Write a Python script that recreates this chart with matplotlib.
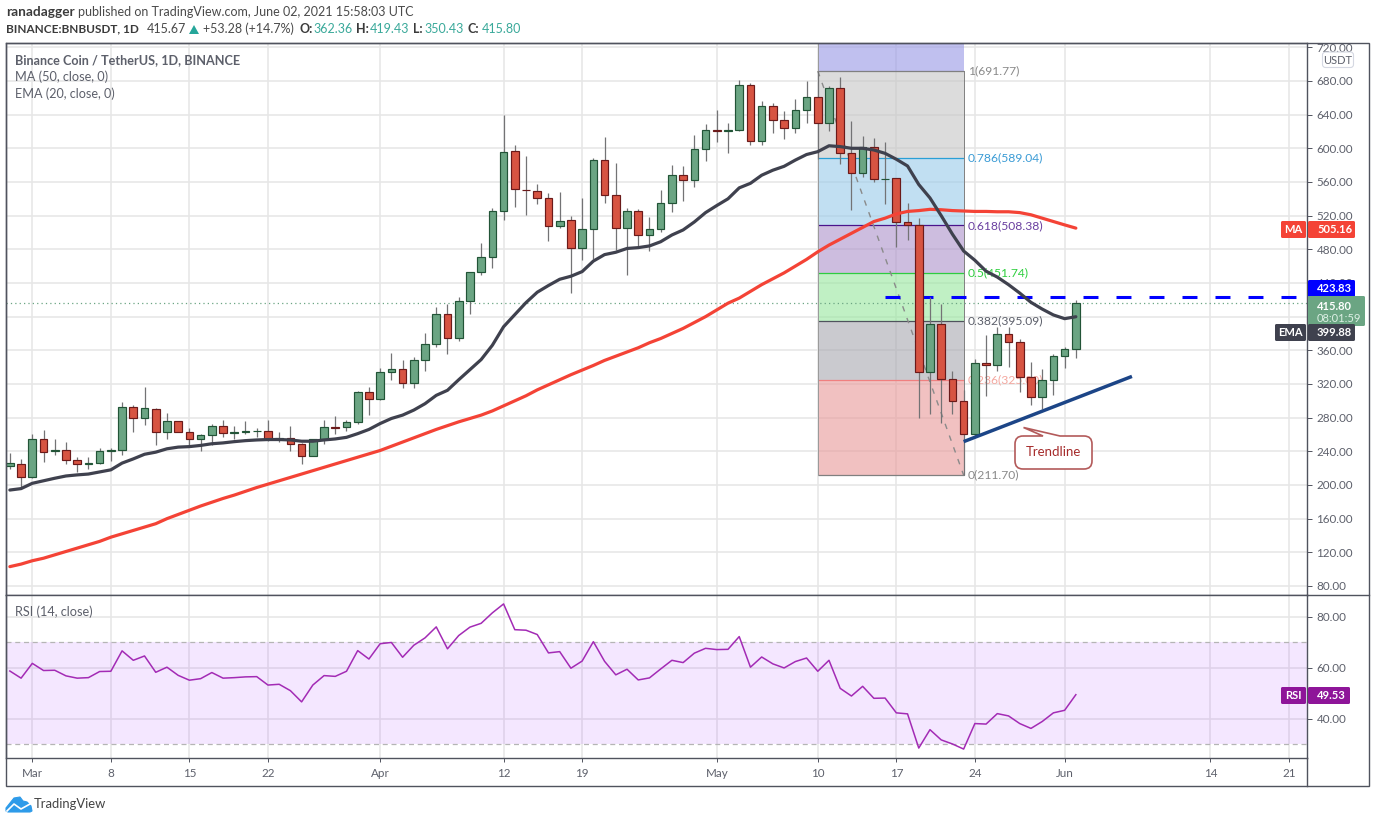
import numpy as np
import pandas as pd
import matplotlib
matplotlib.use("Agg")
import matplotlib.pyplot as plt
import matplotlib.dates as mdates
from matplotlib.patches import FancyBboxPatch, PathPatch, Polygon, Rectangle
from matplotlib.path import Path
from matplotlib.transforms import Affine2D

plt.rcParams['font.family'] = ['Lato', 'DejaVu Sans']

# daily candles, 27 Feb to 2 Jun 2021
start_date = "2021-02-27"
end_date = "2021-06-02"

opens = [222, 225, 209.5, 255, 240, 241, 230, 225, 226.5, 240, 241, 293, 279, 290, 263, 276, 263, 255, 259, 270,
         262, 263, 264, 264.5, 255, 256, 249, 234, 255, 269, 268.5, 275, 311, 302.6, 334.7, 338, 321.6, 349, 368, 403.6,
         375, 419, 453.5, 471, 526, 597, 551, 549.7, 541, 508, 515, 482, 504.6, 586.5, 544, 505.8, 526, 497.4, 504.6, 535.5,
         568.7, 562.8, 599.6, 622, 620, 622, 675.6, 609, 650.7, 634, 624.6, 646, 661, 630, 672, 594, 571, 602, 563, 565,
         512, 508.5, 334, 391, 326, 300, 260.6, 345, 342, 379.4, 370, 328, 304.6, 325, 353, 361.6]
closes = [226, 210, 255, 239.6, 241, 230, 225, 226.5, 240, 241, 293, 279, 291, 263, 276, 263, 255, 259, 270, 262,
          263, 264.5, 264.5, 255, 255.5, 249, 234, 255, 269, 268, 275, 311, 302.6, 334.7, 338, 321.6, 349, 368, 403.6, 375,
          419, 453.5, 471, 526, 596, 552, 550, 541, 508, 514, 482, 504.6, 586.5, 544, 505.8, 526, 497.4, 504.6, 535.5, 568.7,
          562.8, 599.6, 622, 620, 622, 675.6, 609, 650.7, 634, 624.6, 646, 661, 630, 672, 594.5, 571, 602, 563, 564, 512,
          509, 334, 391, 326, 300, 260.6, 345, 342, 379.4, 370, 328, 304.6, 325, 353, 361.6, 415.8]
highs = [238, 231, 260, 265, 255, 251, 233, 233, 244, 244, 298, 295, 316, 291, 285, 276.5, 268, 260, 273, 277.6,
         269.7, 275.6, 268, 277.6, 263, 270, 250, 255, 277, 281.6, 277.6, 312, 317, 339, 357, 349, 352.5, 380, 412, 414.6,
         423, 453.5, 488, 529.5, 639, 603.6, 590.5, 557, 547, 547.7, 520, 540.6, 589, 614, 583, 529.5, 528, 518, 550, 580,
         579, 615.5, 628.5, 646, 630, 681, 678, 656.6, 653.5, 644, 658, 679.6, 691.77, 674, 685, 633, 615, 612, 607, 565,
         535, 517, 423, 415, 335.5, 313, 350, 378.6, 388, 388, 374, 346, 338, 356, 364, 419.4]
lows = [219, 195, 208.7, 227, 235.7, 225, 215, 219, 224.6, 228.5, 236, 263, 271, 247.5, 255, 263, 248, 240, 247.5, 257,
        254.7, 261, 257, 252, 251, 240, 225, 234, 249, 261, 264, 272, 283, 301, 325, 315, 315, 335, 364, 355.6,
        371, 403, 449.5, 457.4, 514.5, 530, 521, 533.5, 490, 505.4, 428, 467, 469, 534.7, 479, 449, 481.6, 478, 500, 524,
        537, 553.7, 584.6, 608, 594, 620.6, 603.6, 603.6, 618.6, 610.7, 618, 629.7, 587, 620.5, 581, 527, 566, 560, 534, 483,
        490.5, 280, 284, 273.7, 284, 212, 258, 305.4, 335, 340, 311, 294.7, 290, 306.5, 339, 350.4]

ema20 = [194, 195.7, 202, 205, 208, 210.7, 212, 213, 215.5, 218, 226, 231, 236.5, 239, 243, 245, 245.6, 247, 249, 250,
         251.5, 252.7, 253.5, 254, 254, 253.5, 252, 252, 253.5, 254.7, 256.6, 261, 266, 273, 279, 283, 289, 296.6, 306.5, 312.5,
         325, 337, 349, 366, 388, 402.4, 416.7, 429, 437, 444.4, 448, 453.5, 466, 473.7, 476.5, 481, 482, 484, 489, 497,
         503, 512.5, 523.6, 532, 540, 553, 558.4, 568, 574, 578.6, 586, 592.6, 596, 603, 602, 600, 600, 598, 594, 587,
         579, 557, 541, 520, 498, 478, 467, 454, 447, 438, 428, 417, 409, 402, 397.6, 399.88]
ma50 = [103, 106, 110, 113, 117, 121, 125, 129, 133, 138, 142, 146, 150, 154, 160, 165, 170, 175, 179.5, 184,
        188, 192.5, 197, 201, 205, 209, 213, 217, 221, 225, 229, 233, 237, 241, 246, 251, 256, 261, 266, 270.5,
        275, 279, 283, 288, 294, 300, 306, 313, 319, 325, 331, 336.5, 342, 348, 353, 358, 363, 369, 374, 380,
        386, 393, 400, 408, 416, 422, 430, 438, 445, 452, 460, 468, 477, 485, 492, 499, 506, 513, 517, 522,
        525, 526, 527.5, 527, 526, 525.5, 525, 525, 524.6, 524.6, 523.6, 521, 517, 513, 509, 505.16]
rsi14 = [58.8, 56, 61.8, 59, 59.1, 56.9, 56, 56.2, 58.6, 58.7, 66.7, 63, 64.7, 58.3, 60.3, 57.1, 55.2, 55.8, 58.2, 56,
         56.2, 56.5, 56.6, 53.3, 53.6, 51.1, 46.7, 53.3, 57, 56.7, 58.7, 66.8, 63.5, 69.5, 70, 64.2, 68.9, 71.8, 76.1, 67.5,
         72.7, 76, 77.5, 81.6, 85.1, 75, 74.8, 73.1, 65.9, 66.4, 59.9, 62.7, 70.3, 62.6, 57.3, 59.5, 55.3, 56.1, 59.6, 63,
         62.1, 65.8, 67.7, 67.2, 67.3, 72.3, 60.3, 64.3, 61.6, 60, 62.5, 63.9, 58.7, 63, 52, 49, 52.8, 48.1, 48.2, 42.4,
         42, 28.6, 35.8, 31.8, 30.2, 28.2, 38.2, 38, 42.1, 41.2, 38.2, 36.3, 39, 42.4, 43.4, 49.53]

# fibonacci retracement drawn from 10 May to 23 May
fib_start = "2021-05-10"
fib_end = "2021-05-23"
fib_levels = [691.77, 589.04, 508.38, 451.74, 395.09, 325.00, 211.70]
fib_names = ["1", "0.786", "0.618", "0.5", "0.382", "0.236", "0"]
fib_lines = ["#808080", "#2a9fd6", "#4a148c", "#2ecc40", "#50535e", "#f08080", "#808080"]
fib_text = ["#8a8a8a", "#3a9bd5", "#6a3fa0", "#2fcf3f", "#5d606b", "#f4a8a0", "#8a8a8a"]
fib_fills = ["#c5c5c5", "#99cbea", "#ac91cb", "#96e69d", "#a8a8b0", "#e99999"]
fib_top_fill = "#9696e5"

resistance = 423.83
resistance_start = "2021-05-16"
last_price = 415.80
trend_dates = ["2021-05-23", "2021-06-07"]
trend_prices = [251.5, 329]

price_ticks = [80, 120, 160, 200, 240, 280, 320, 360, 400, 440, 480, 520, 560, 600, 640, 680, 720]
rsi_ticks = [40, 60, 80]
date_ticks = ["2021-03-01", "2021-03-08", "2021-03-15", "2021-03-22", "2021-04-01", "2021-04-12", "2021-04-19",
              "2021-05-01", "2021-05-10", "2021-05-17", "2021-05-24", "2021-06-01", "2021-06-14", "2021-06-21"]
date_labels = ["Mar", "8", "15", "22", "Apr", "12", "19", "May", "10", "17", "24", "Jun", "14", "21"]

FRAME = "#50535e"
GRID = "#e6e6e6"
LABEL = "#5d606b"
UP = "#6ba583"
DOWN = "#d75442"
UP_EDGE = "#225437"
DOWN_EDGE = "#6b1a1a"
HEAD = "#3b3b3b"
HEAD_LIGHT = "#4a4a4a"
SCALE_SIZE = 8.4
TAG_SIZE = 8.0

W, H = 1376, 823
LEFT, RIGHT_AXIS, RIGHT = 6, 1307, 1369
TOP, SPLIT, BOTTOM, OUTER = 43, 595, 758, 786

fig = plt.figure(figsize=(W / 100, H / 100), dpi=100, facecolor="white")
# overlay pixels, origin top left
px = Affine2D().scale(1, -1).translate(0, H)


def pane(y0, y1):
    return fig.add_axes([LEFT / W, 1 - y1 / H, (RIGHT_AXIS - LEFT) / W, (y1 - y0) / H])


def label(x, y, s, color=LABEL, size=9.0, weight="normal", ha="left", zorder=20):
    return fig.text(x, y, s, transform=px, color=color, fontsize=size, fontweight=weight,
                    ha=ha, va="center", zorder=zorder)


def tag(x0, y0, x1, y1, color):
    fig.add_artist(FancyBboxPatch((x0 + 1, y0 + 1), x1 - x0 - 2, y1 - y0 - 2, boxstyle="round,pad=1,rounding_size=1.5",
                                  transform=px, fc=color, ec="none", zorder=15))


ax = pane(TOP, SPLIT)
ax_rsi = pane(SPLIT, BOTTOM)

dates = pd.date_range(start_date, end_date)
x = mdates.date2num(dates)
x_ref = mdates.date2num(pd.Timestamp("2021-03-01"))
tick_x = mdates.date2num(pd.to_datetime(date_ticks))

for a in (ax, ax_rsi):
    a.set_xlim(x_ref - 2.344, x_ref + 113.6)
    a.set_xticks(tick_x)
    a.yaxis.tick_right()
    a.grid(True, color=GRID, lw=1.1)
    a.set_axisbelow(True)
    for s in a.spines.values():
        s.set_color(FRAME)
        s.set_linewidth(1.0)
    a.tick_params(axis="y", length=3.6, width=0.7, color=FRAME, labelcolor=LABEL, labelsize=SCALE_SIZE, pad=3.2)

ax.set_ylim(69.3, 725.1)
ax.set_yticks(price_ticks)
ax.set_yticklabels(["%.2f" % t for t in price_ticks])
ax.tick_params(axis="x", length=0, labelbottom=False)

# fib zones
fx0 = mdates.date2num(pd.Timestamp(fib_start))
fx1 = mdates.date2num(pd.Timestamp(fib_end))
ax.fill_between([fx0, fx1], fib_levels[0], 725.1, color=fib_top_fill, alpha=0.6, lw=0, zorder=1)
for i, c in enumerate(fib_fills):
    ax.fill_between([fx0, fx1], fib_levels[i + 1], fib_levels[i], color=c, alpha=0.6, lw=0, zorder=1)
for lev, name, lc, tc in zip(fib_levels, fib_names, fib_lines, fib_text):
    ax.plot([fx0, fx1], [lev, lev], color=lc, lw=0.9, zorder=1.5, solid_capstyle="butt")
    ax.text(fx1 + 0.35, lev, "%s(%.2f)" % (name, lev), color=tc, fontsize=8.7, va="center", zorder=1.6)
ax.plot([fx0, fx0], [fib_levels[-1], 725.1], color="#9a9a9a", lw=0.7, zorder=1.5)
ax.plot([fx1, fx1], [fib_levels[-1], fib_levels[0]], color="#808080", lw=0.7, zorder=1.5)
ax.plot([fx0, fx1], [fib_levels[0], fib_levels[-1]], color="#8a8a8a", lw=1.0, ls=(0, (4, 5)), zorder=1.7)

# last price and resistance level
ax.axhline(last_price, color=UP, lw=0.9, ls=(0, (1, 2.5)), zorder=1.8)
ax.plot([mdates.date2num(pd.Timestamp(resistance_start)), ax.get_xlim()[1]], [resistance, resistance],
        color="#0000ff", lw=2.2, ls=(0, (4.9, 5.9)), zorder=2, dash_capstyle="butt")

# candles
o = np.array(opens)
c = np.array(closes)
up = c >= o
ax.vlines(x, lows, highs, color="#737375", lw=0.9, zorder=2.5)
ax.bar(x[up], (c - o)[up], bottom=o[up], width=0.68, color=UP, edgecolor=UP_EDGE, lw=0.85, zorder=3)
ax.bar(x[~up], (c - o)[~up], bottom=o[~up], width=0.68, color=DOWN, edgecolor=DOWN_EDGE, lw=0.85, zorder=3)

ax.plot(x, ma50, color="#f44336", lw=2.3, zorder=4, solid_capstyle="round")
ax.plot(x, ema20, color="#3f414e", lw=2.3, zorder=4, solid_capstyle="round")
ax.plot(mdates.date2num(pd.to_datetime(trend_dates)), trend_prices, color="#1c4587", lw=2.5, zorder=4.5,
        solid_capstyle="butt")

# rsi pane
ax_rsi.set_ylim(24.7, 88.6)
ax_rsi.set_yticks(rsi_ticks)
ax_rsi.set_yticklabels(["%.2f" % t for t in rsi_ticks])
ax_rsi.set_xticklabels(date_labels)
ax_rsi.tick_params(axis="x", length=3, width=0.7, color=FRAME, labelcolor=LABEL, labelsize=SCALE_SIZE, pad=4.4)
ax_rsi.axhspan(30, 70, color="#9915ff", alpha=0.1, lw=0, zorder=1)
for lev in (30, 70):
    ax_rsi.axhline(lev, color="#b5b5b5", lw=0.9, ls=(0, (4, 3)), zorder=1.5)
ax_rsi.plot(x, rsi14, color="#a32bb5", lw=1.1, zorder=3)

# outer frame
fig.add_artist(Rectangle((LEFT, TOP), RIGHT - LEFT, OUTER - TOP, transform=px, fc="none", ec=FRAME, lw=1.0, zorder=5))
fig.add_artist(plt.Line2D([RIGHT_AXIS, RIGHT_AXIS], [BOTTOM, OUTER], transform=px, color=FRAME, lw=1.0, zorder=5))
fig.add_artist(plt.Line2D([RIGHT_AXIS, RIGHT], [SPLIT, SPLIT], transform=px, color=FRAME, lw=1.0, zorder=5))

# header
label(6, 12, "ranadagger", HEAD, 9.8, "bold")
label(77.5, 12, "published on TradingView.com, June 02, 2021 15:58:03 UTC", HEAD_LIGHT, 9.0)
label(6, 29, "BINANCE:BNBUSDT, 1D", HEAD, 8.5, "bold")
label(147, 29, "415.67", HEAD_LIGHT, 9.0)
fig.add_artist(Polygon([[189, 34], [199, 34], [194, 25]], transform=px, fc="#26a69a", ec="none", zorder=20))
label(203, 29, "+53.28 (+14.7%)", HEAD_LIGHT, 9.0)
for xa, xb, head, val in [(299, 313, "O:", "362.36"), (356, 370, "H:", "419.43"),
                          (413, 424, "L:", "350.43"), (468, 482, "C:", "415.80")]:
    label(xa, 29, head, HEAD, 9.0, "bold")
    label(xb, 29, val, "#3aa99a", 9.0)

# pane legends
label(15, 60, "Binance Coin / TetherUS, 1D, BINANCE", LABEL, 9.1, "bold")
label(15, 77, "MA (50, close, 0)", LABEL, 9.2)
label(15, 94, "EMA (20, close, 0)", LABEL, 9.1)
label(15, 612, "RSI (14, close)", LABEL, 9.2)

# price scale tags
fig.add_artist(FancyBboxPatch((1323.5, 53), 29, 13.5, boxstyle="round,pad=1,rounding_size=3", transform=px,
                              fc="white", ec="#d5d8e2", lw=0.8, zorder=15))
label(1338, 60, "USDT", LABEL, 8.0, ha="center")
tag(1281, 221, 1306, 238, "#f44336")
label(1293.5, 229.5, "MA", "white", TAG_SIZE, "bold", ha="center")
tag(1308, 221, 1355, 238, "#f44336")
label(1317, 229.5, "505.16", "white", TAG_SIZE, "bold")
tag(1308, 280, 1355, 297, "#0000ff")
label(1317, 288.5, "423.83", "white", TAG_SIZE, "bold")
tag(1308, 296, 1365, 326, UP)
label(1317, 306, "415.80", "white", TAG_SIZE, "bold")
label(1317, 318, "08:01:59", "#dcefe4", TAG_SIZE)
tag(1275, 324, 1306, 341, "#3f414e")
label(1290.5, 332.5, "EMA", "white", TAG_SIZE, "bold", ha="center")
tag(1308, 324, 1355, 341, "#3f414e")
label(1317, 332.5, "399.88", "white", TAG_SIZE, "bold")
tag(1281, 687, 1306, 704, "#8e1599")
label(1293.5, 695.5, "RSI", "white", TAG_SIZE, "bold", ha="center")
tag(1308, 687, 1350, 704, "#8e1599")
label(1317, 695.5, "49.53", "white", TAG_SIZE, "bold")

# trendline callout
bx0, by0, bx1, by1, r = 1015, 436, 1092, 469, 8
verts = [(bx0 + r, by0), (1043, by0), (1023.5, 427.5), (1060, by0), (bx1 - r, by0), (bx1, by0), (bx1, by0 + r),
         (bx1, by1 - r), (bx1, by1), (bx1 - r, by1), (bx0 + r, by1), (bx0, by1), (bx0, by1 - r),
         (bx0, by0 + r), (bx0, by0), (bx0 + r, by0)]
codes = [Path.MOVETO, Path.LINETO, Path.LINETO, Path.LINETO, Path.LINETO, Path.CURVE3, Path.CURVE3,
         Path.LINETO, Path.CURVE3, Path.CURVE3, Path.LINETO, Path.CURVE3, Path.CURVE3,
         Path.LINETO, Path.CURVE3, Path.CURVE3]
fig.add_artist(PathPatch(Path(verts, codes), transform=px, fc="white", ec="#b35a5a", lw=1.2, zorder=10))
label(1053.5, 451.5, "Trendline", "#a52a2a", 9.5, ha="center")

# footer logo
logo = [(6, 811), (6, 808), (10, 803), (14, 798), (20, 797), (23, 801), (27, 802), (31, 806), (32, 811), (30, 812), (8, 812)]
fig.add_artist(Polygon(logo, closed=True, transform=px, fc="#2e9be9", ec="#2e9be9", lw=0.8, zorder=20))
fig.add_artist(plt.Line2D([7, 14, 21, 30], [811, 804, 809, 804], transform=px, color="white", lw=1.2, zorder=21))
label(34, 804, "TradingView", "#444444", 9.4)

fig.savefig("out.png", dpi=100, facecolor="white")
